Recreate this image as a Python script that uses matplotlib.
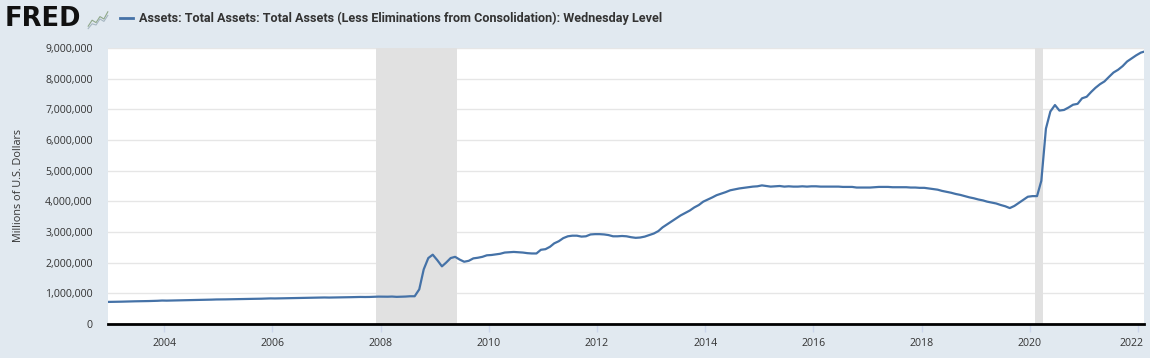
import matplotlib
matplotlib.use("Agg")
import matplotlib.pyplot as plt
import matplotlib.ticker as mticker
import matplotlib.transforms as mtransforms
import pandas as pd
import numpy as np

# ---------------- data ----------------
# Monthly (approx. mid-month) Wednesday levels, billions of dollars
assets_2002 = [720]
assets_2003 = [722, 725, 728, 733, 738, 740, 742, 745, 748, 752, 757, 765]
assets_2004 = [762, 765, 768, 772, 776, 780, 782, 785, 788, 790, 795, 800]
assets_2005 = [800, 803, 806, 810, 812, 815, 818, 820, 822, 825, 830, 835]
assets_2006 = [833, 836, 840, 842, 845, 848, 850, 852, 855, 857, 860, 865]
assets_2007 = [862, 864, 866, 868, 872, 875, 878, 882, 880, 882, 888, 893]
assets_2008 = [892, 890, 895, 885, 890, 895, 905, 905, 1130, 1780, 2150, 2260]
assets_2009 = [2080, 1880, 2000, 2150, 2190, 2100, 2030, 2060, 2140, 2160, 2190, 2240]
assets_2010 = [2250, 2270, 2290, 2330, 2340, 2350, 2340, 2330, 2310, 2300, 2300, 2420]
assets_2011 = [2440, 2520, 2630, 2700, 2800, 2860, 2880, 2880, 2850, 2860, 2920, 2930]
assets_2012 = [2930, 2920, 2900, 2860, 2860, 2870, 2860, 2830, 2810, 2820, 2850, 2900]
assets_2013 = [2950, 3030, 3150, 3250, 3350, 3450, 3540, 3620, 3700, 3800, 3880, 3990]
assets_2014 = [4060, 4130, 4200, 4250, 4300, 4360, 4390, 4420, 4440, 4460, 4480, 4490]
assets_2015 = [4520, 4500, 4480, 4490, 4500, 4480, 4490, 4480, 4480, 4490, 4480, 4490]
assets_2016 = [4490, 4480, 4480, 4480, 4480, 4480, 4470, 4470, 4470, 4450, 4450, 4450]
assets_2017 = [4450, 4460, 4470, 4470, 4470, 4460, 4460, 4460, 4460, 4450, 4450, 4440]
assets_2018 = [4440, 4420, 4400, 4380, 4340, 4310, 4280, 4240, 4210, 4170, 4130, 4100]
assets_2019 = [4060, 4030, 3990, 3960, 3930, 3880, 3840, 3780, 3850, 3950, 4050, 4150]
assets_2020 = [4170, 4170, 4670, 6370, 6930, 7140, 6960, 6980, 7060, 7150, 7180, 7360]
assets_2021 = [7410, 7570, 7700, 7820, 7910, 8060, 8200, 8290, 8410, 8560, 8660, 8760]
assets_2022 = [8850, 8880]

recession_starts = ["2007-12-01", "2020-02-01"]
recession_ends = ["2009-06-01", "2020-04-01"]

y_ticks = [0, 1_000_000, 2_000_000, 3_000_000, 4_000_000, 5_000_000,
           6_000_000, 7_000_000, 8_000_000, 9_000_000]
x_tick_years = [2004, 2006, 2008, 2010, 2012, 2014, 2016, 2018, 2020, 2022]

title_text = ("Assets: Total Assets: Total Assets (Less Eliminations from "
              "Consolidation): Wednesday Level")
y_label = "Millions of U.S. Dollars"

# icon zigzag (decoration only)
icon_a = [0.2, 0.45, 0.35, 0.6, 0.5, 0.8]
icon_b = [0.1, 0.3, 0.25, 0.5, 0.4, 0.65]

# ---------------- build series ----------------
values_bn = (assets_2002 + assets_2003 + assets_2004 + assets_2005 + assets_2006 +
             assets_2007 + assets_2008 + assets_2009 + assets_2010 + assets_2011 +
             assets_2012 + assets_2013 + assets_2014 + assets_2015 + assets_2016 +
             assets_2017 + assets_2018 + assets_2019 + assets_2020 + assets_2021 +
             assets_2022)
values = np.array(values_bn, dtype=float) * 1000.0  # millions of dollars
dates = list(pd.date_range("2002-12-01", periods=len(values) - 1, freq="MS")
             + pd.Timedelta(days=17))
dates.append(pd.Timestamp("2022-02-09"))
dates[-2] = pd.Timestamp("2022-01-19")

# ---------------- style ----------------
BG = "#E1E9F0"
LINE = "#4572A7"
TXT = "#333333"

plt.rcParams["font.family"] = ["Open Sans", "DejaVu Sans"]

W, H = 1150, 358
fig = plt.figure(figsize=(W / 100, H / 100), dpi=100, facecolor=BG)

L, R, T, B = 108, 1144, 48, 324
ax = fig.add_axes([L / W, 1 - B / H, (R - L) / W, (B - T) / H])
ax.set_facecolor("white")

for s, e in zip(recession_starts, recession_ends):
    ax.axvspan(pd.Timestamp(s), pd.Timestamp(e), color="#E1E1E1", lw=0, zorder=1)

ax.plot(dates, values, color=LINE, lw=1.6, zorder=3, solid_joinstyle="round")

ax.set_ylim(0, 9_000_000)
ax.set_xlim(pd.Timestamp("2002-12-18"), pd.Timestamp("2022-02-09"))

ax.set_yticks(y_ticks)
ax.yaxis.set_major_formatter(mticker.FuncFormatter(lambda v, p: f"{int(v):,}"))
ax.set_xticks([pd.Timestamp(f"{y}-01-01") for y in x_tick_years])
ax.set_xticklabels([str(y) for y in x_tick_years])

ax.grid(axis="y", color="#E6E6E6", lw=1, zorder=0)
ax.set_axisbelow(True)

for sp in ["top", "right", "left"]:
    ax.spines[sp].set_visible(False)
ax.spines["bottom"].set_color("black")
ax.spines["bottom"].set_linewidth(2)
ax.spines["bottom"].set_zorder(5)

ax.tick_params(axis="y", length=0, pad=11, labelsize=7.6, labelcolor=TXT)
ax.tick_params(axis="x", length=6, width=1, color="#CCD6EB", pad=4,
               labelsize=7.6, labelcolor=TXT, direction="out")

# keep the last year label inside the figure, as in the reference
last_lbl = ax.get_xticklabels()[-1]
last_lbl.set_horizontalalignment("right")
last_lbl.set_transform(last_lbl.get_transform() +
                       mtransforms.ScaledTranslation(5 / 100, 0, fig.dpi_scale_trans))

fig.text(19 / W, 1 - 186 / H, y_label, rotation=90, ha="center", va="center",
         fontsize=7.8, color=TXT)

# header: logo, legend key, title
fig.text(5 / W, 1 - 19 / H, "FRED", ha="left", va="center", fontsize=18.5,
         fontweight="heavy", color="#111111", family=["DejaVu Sans"])
icon_ax = fig.add_axes([87 / W, 1 - 31 / H, 22 / W, 24 / H])
icon_ax.set_facecolor("#D8DFD5")
icon_ax.plot(np.arange(len(icon_a)), icon_a, color="#8FA88A", lw=0.8)
icon_ax.plot(np.arange(len(icon_b)), icon_b, color="#A7B7C2", lw=0.8)
icon_ax.set_xlim(-0.3, len(icon_a) - 0.7)
icon_ax.set_ylim(0, 1)
icon_ax.axis("off")

fig.add_artist(plt.Line2D([120 / W, 133 / W], [1 - 18 / H, 1 - 18 / H],
                          color=LINE, lw=2))
fig.text(139 / W, 1 - 18 / H, title_text, ha="left", va="center",
         fontsize=9.1, color="#333333",
         family=["Liberation Sans Narrow", "Roboto", "DejaVu Sans"],
         fontweight="bold")

fig.savefig("out.png", dpi=100, facecolor=BG)
